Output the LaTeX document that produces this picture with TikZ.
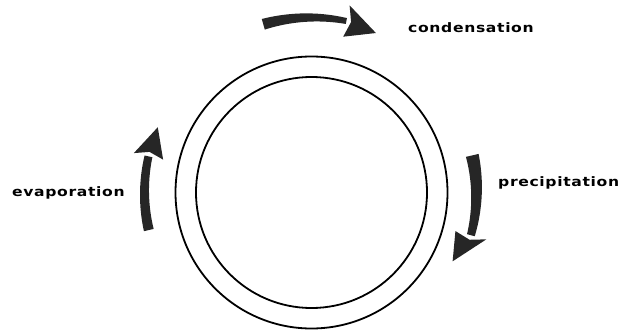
\documentclass[tikz,border=0pt]{standalone}
\usepackage{fontspec}
\newfontfamily\labelfont[LetterSpace=5,FakeStretch=1.2]{DejaVu Sans}
\begin{document}
\newcommand\bentarrow[8]{% #1 start angle, #2 head-base angle, #3 tip angle, #4 radius, #5 tail width, #6 neck width, #7 head half width, #8 tip radius
  \fill[arrowfill]
    plot[domain=#1:#2,samples=30] ({311.5+(#4+(#5+(#6-#5)*(\x-#1)/(#2-#1))/2)*cos(\x)},{-192.5+(#4+(#5+(#6-#5)*(\x-#1)/(#2-#1))/2)*sin(\x)})
    -- plot[domain=#2:#1,samples=30] ({311.5+(#4-(#5+(#6-#5)*(\x-#1)/(#2-#1))/2)*cos(\x)},{-192.5+(#4-(#5+(#6-#5)*(\x-#1)/(#2-#1))/2)*sin(\x)})
    -- cycle;
  \fill[arrowfill]
    ({311.5+(#4+#7)*cos(#2)},{-192.5+(#4+#7)*sin(#2)})
    -- ({311.5+#8*cos(#3)},{-192.5+#8*sin(#3)})
    -- ({311.5+(#4-#7)*cos(#2)},{-192.5+(#4-#7)*sin(#2)})
    -- ({311.5+#4*cos(#2+(#3-#2)*0.15)},{-192.5+#4*sin(#2+(#3-#2)*0.15)})
    -- cycle;
}
\begin{tikzpicture}[x=1pt,y=1pt,
  ring/.style={circle,draw=black,line width=1.8pt,inner sep=0pt},
  lbl/.style={font=\labelfont\bfseries\fontsize{13}{15}\selectfont,text=black,inner sep=0pt,anchor=base west},
  arrowfill/.style={fill=black!85}]
\useasboundingbox (0,0) rectangle (637,-334);
\coordinate (C) at (311.5,-192.5);
\node[ring,minimum size=272pt] (outer) at (C) {};
\node[ring,minimum size=231pt] (inner) at (C) {};
\node[lbl] (cond) at (408,-33) {condensation};
\node[lbl] (prec) at (498,-186) {precipitation};
\node[lbl] (evap) at (12,-196) {evaporation};
% condensation arrow (top)
\bentarrow{106}{78.5}{68}{175}{11}{6}{16}{172}
% precipitation arrow (right)
\bentarrow{13}{-15}{-26}{165}{13}{8}{16}{157}
% evaporation arrow (left)
\bentarrow{193}{167.5}{157}{167}{10}{8}{15}{167}
\end{tikzpicture}
\end{document}
